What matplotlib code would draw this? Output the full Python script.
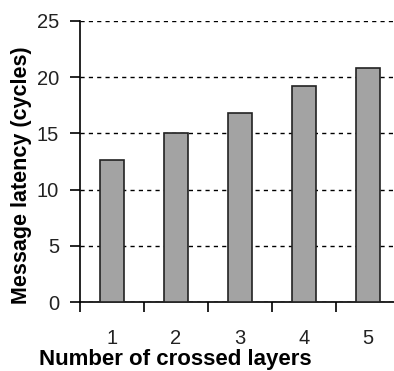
import matplotlib
matplotlib.use("Agg")
import matplotlib.pyplot as plt
import numpy as np

# data
layers = [1, 2, 3, 4, 5]
latency = [12.6, 15.0, 16.8, 19.2, 20.8]
y_ticks = [0, 5, 10, 15, 20, 25]

plt.rcParams["font.family"] = ["Liberation Sans", "DejaVu Sans"]

W, H = 394, 371
y0, y1 = 302.3, 20.7  # pixel rows of 0 and 25
fig = plt.figure(figsize=(W / 100, H / 100), dpi=100)
# plot area runs a bit past the right edge, like the cropped original
ax = fig.add_axes([80 / W, (H - y0) / H, 320 / W, (y0 - y1) / H])

ax.bar(layers, latency, width=0.38, color="#a3a3a3", edgecolor="#222222",
       linewidth=1.2, zorder=3)

ax.set_xlim(0.5, 5.5)
ax.set_ylim(0, 25)
ax.set_yticks(y_ticks)
ax.yaxis.grid(True, linestyle=(0, (3, 3)), color="black", linewidth=1.0, zorder=0)

# labels at centres, tick marks at category boundaries
ax.set_xticks(layers)
ax.set_xticks(np.arange(0.5, 6, 1), minor=True)
ax.tick_params(axis="x", which="major", length=0, pad=19, labelsize=14.5, labelcolor="#222222")
ax.tick_params(axis="x", which="minor", length=7, width=1.2, direction="out")
ax.tick_params(axis="y", length=7, width=1.2, direction="out", pad=8, labelsize=14.5,
               labelcolor="#222222")

for s in ["top", "right"]:
    ax.spines[s].set_visible(False)
for s in ["left", "bottom"]:
    ax.spines[s].set_linewidth(1.2)

ax.set_xlabel("Number of crossed layers", fontsize=16, fontweight="bold", va="center")
ax.set_ylabel("Message latency (cycles)", fontsize=15.5, fontweight="bold", va="center")
ax.xaxis.set_label_coords((175.5 - 80) / 320, (y0 - 360) / (y0 - y1))
ax.yaxis.set_label_coords((22 - 80) / 320, (y0 - 175) / (y0 - y1))

fig.savefig("out.png", dpi=100)
